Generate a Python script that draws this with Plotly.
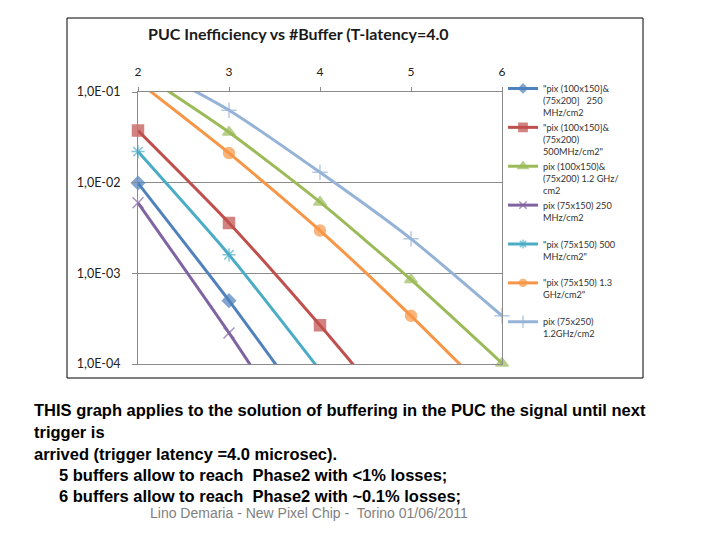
import plotly.graph_objects as go

# ---- data ----
buffers = [2, 3, 4, 5, 6]
series_names = [
    '"pix (100x150]&<br>(75x200]   250<br>MHz/cm2',
    '"pix (100x150]&<br>(75x200)<br>500MHz/cm2"',
    'pix (100x150)&<br>(75x200) 1.2 GHz/<br>cm2',
    'pix (75x150) 250<br>MHz/cm2<br> ',
    '"pix (75x150) 500<br>MHz/cm2"<br> ',
    '"pix (75x150) 1.3<br>GHz/cm2"<br> ',
    'pix (75x250)<br>1.2GHz/cm2<br> ',
]
blue_250 = [9.9e-3, 5.0e-4, 2.1e-5]
red_500 = [3.75e-2, 3.6e-3, 2.67e-4, 1.7e-5]
green_12g = [0.17, 3.6e-2, 6.1e-3, 8.5e-4, 1.02e-4]
purple_250 = [6.0e-3, 2.2e-4, 6.6e-6]
cyan_500 = [2.2e-2, 1.6e-3, 8.5e-5]
orange_13g = [0.13, 2.12e-2, 2.96e-3, 3.4e-4, 3.4e-5]
lblue_12g = [0.22, 6.3e-2, 1.3e-2, 2.4e-3, 3.4e-4]
y_tickvals = [1e-4, 1e-3, 1e-2, 1e-1]
y_ticktext = ["1,0E-04", "1,0E-03", "1,0E-02", "1,0E-01"]

values = [blue_250, red_500, green_12g, purple_250, cyan_500, orange_13g, lblue_12g]
colors = ["#4F81BD", "#C0504D", "#9BBB59", "#8064A2", "#4BACC6", "#F79646", "#95B3D7"]
symbols = ["diamond", "square", "triangle-up", "x-thin-open", "asterisk-open", "circle", "cross-thin-open"]
msizes = [10, 11, 11, 11, 11, 11, 11]

# plot-area geometry in pixels
L, R, T, B = 138, 502, 92, 364
W, H = R - L, B - T


def px(x):
    return (x - L) / W


def py(y):
    return (B - y) / H


fig = go.Figure()
for name, vals, col, sym, ms in zip(series_names, values, colors, symbols, msizes):
    xs = buffers[:len(vals)]
    sizes = [ms if 0.9e-4 <= v <= 1.01e-1 else 0 for v in vals]
    fig.add_trace(go.Scatter(
        x=xs, y=vals, name=name, mode="lines+markers",
        line=dict(color=col, width=3, shape="spline", smoothing=0.6),
        marker=dict(symbol=sym, size=sizes, color=col,
                    line=dict(color=col, width=1.5)),
        cliponaxis=False,
    ))

fig.update_layout(
    width=720, height=540,
    margin=dict(l=L, r=720 - R, t=T, b=540 - B),
    paper_bgcolor="white", plot_bgcolor="white",
    font=dict(family="Lato, Open Sans, sans-serif", color="#222"),
    showlegend=True,
    legend=dict(x=px(503), y=py(76), xanchor="left", yanchor="top",
                valign="top", font=dict(size=9.2, color="#333"),
                itemwidth=30, tracegroupgap=0, bgcolor="rgba(0,0,0,0)",
                maxheight=480),
)
fig.update_xaxes(range=[2, 6], side="top", tickvals=buffers,
                 showgrid=False, zeroline=False,
                 showline=True, mirror=True, linecolor="#8a8a8a", linewidth=1,
                 ticks="outside", ticklen=4, tickcolor="#8a8a8a",
                 ticklabelstandoff=6,
                 tickfont=dict(size=12, family="Lato, sans-serif", color="#222"))
fig.update_yaxes(type="log", range=[-4, -1], tickvals=y_tickvals, ticktext=y_ticktext,
                 showgrid=True, gridcolor="#8a8a8a", gridwidth=1, zeroline=False,
                 showline=True, mirror=True, linecolor="#8a8a8a", linewidth=1,
                 ticks="outside", ticklen=5, tickcolor="#8a8a8a",
                 ticklabelstandoff=9,
                 tickfont=dict(size=12.5, family="Lato, sans-serif", color="#222"))

# chart frame
fig.add_shape(type="rect", xref="paper", yref="paper",
              x0=px(67), x1=px(643), y0=py(378), y1=py(18),
              line=dict(color="#000", width=1), fillcolor="rgba(0,0,0,0)", layer="below")

# title
fig.add_annotation(text="<b>PUC Inefficiency vs #Buffer (T-latency=4.0</b>",
                   xref="paper", yref="paper", x=px(298), y=py(33),
                   xanchor="center", yanchor="middle", showarrow=False,
                   font=dict(size=16, family="Lato, sans-serif", color="#1a1a1a"))

body = [
    ("THIS graph applies to the solution of buffering in the PUC the signal until next", 32, 410),
    ("trigger is", 32, 432),
    ("arrived (trigger latency =4.0 microsec).", 32, 454),
    ("5 buffers allow to reach&nbsp; Phase2 with &lt;1% losses;", 57, 475),
    ("6 buffers allow to reach&nbsp; Phase2 with ~0.1% losses;", 57, 496),
]
for txt, x, y in body:
    fig.add_annotation(text=txt, xref="paper", yref="paper", x=px(x), y=py(y),
                       xanchor="left", yanchor="middle", showarrow=False,
                       font=dict(size=16.5, family="Liberation Sans, Arial, sans-serif",
                                 color="#000", weight="bold"))

fig.add_annotation(text="Lino Demaria - New Pixel Chip -&nbsp; Torino 01/06/2011",
                   xref="paper", yref="paper", x=px(148), y=py(513),
                   xanchor="left", yanchor="middle", showarrow=False,
                   font=dict(size=14, family="Liberation Sans Narrow, Liberation Sans, sans-serif",
                             color="#7f7f7f"))

fig.write_html("out.html", config={"displayModeBar": False},
               post_script="document.body.style.margin='0px';")
